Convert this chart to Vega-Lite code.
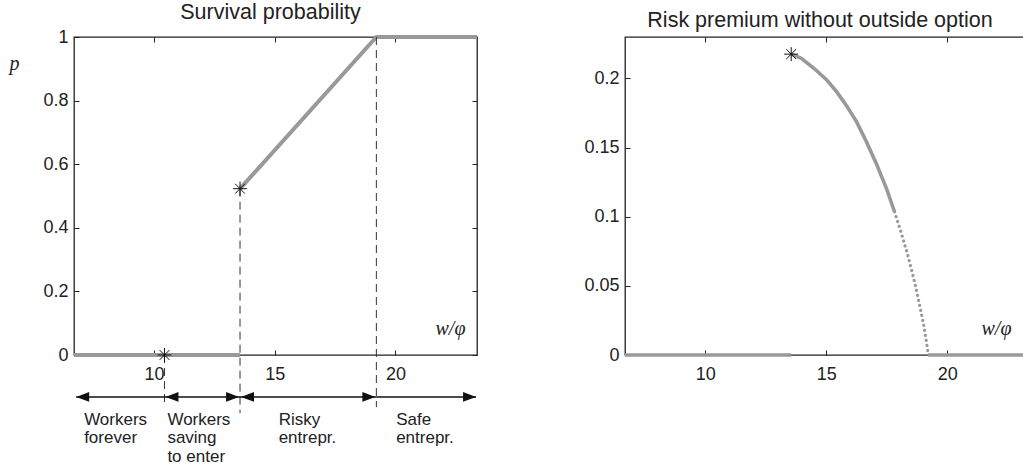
{
  "$schema": "https://vega.github.io/schema/vega-lite/v6.json",
  "padding": {"left": 8, "top": 0, "right": 0, "bottom": 0},
  "spacing": 97,
  "config": {
    "view": {"stroke": "#222", "strokeWidth": 1.3},
    "font": "Liberation Sans",
    "axis": {"grid": false, "domain": false, "tickColor": "#222", "tickSize": -5, "tickWidth": 1, "labelFont": "Liberation Sans", "labelFontSize": 18, "labelColor": "#222", "titleFont": "Liberation Serif", "titleFontStyle": "italic", "titleFontWeight": "normal", "titleFontSize": 20, "titleColor": "#222"},
    "title": {"font": "Liberation Sans", "fontSize": 21.5, "fontWeight": "normal", "color": "#222", "baseline": "bottom", "offset": 5}
  },
  "datasets": {
    "surv": [
      {"x": 6.68, "y": 0, "seg": "a"}, {"x": 13.56, "y": 0, "seg": "a"},
      {"x": 13.56, "y": 0.523, "seg": "b"}, {"x": 19.21, "y": 1, "seg": "b"}, {"x": 23.38, "y": 1, "seg": "b"}
    ],
    "survStars": [{"x": 10.43, "y": 0}, {"x": 13.56, "y": 0.523}],
    "vdash": [
      {"x": 10.43, "y": 0, "y2": -0.164},
      {"x": 13.56, "y": 0.523, "y2": -0.183},
      {"x": 19.21, "y": 1, "y2": -0.164}
    ],
    "arrows": [
      {"x": 6.77, "x2": 10.43, "y": -0.132},
      {"x": 10.43, "x2": 13.56, "y": -0.132},
      {"x": 13.56, "x2": 19.21, "y": -0.132},
      {"x": 19.21, "x2": 23.34, "y": -0.132}
    ],
    "heads": [
      {"x": 6.77, "y": -0.132, "dir": "left"},
      {"x": 10.47, "y": -0.132, "dir": "left"},
      {"x": 13.52, "y": -0.132, "dir": "right"},
      {"x": 13.6, "y": -0.132, "dir": "left"},
      {"x": 19.17, "y": -0.132, "dir": "right"},
      {"x": 23.34, "y": -0.132, "dir": "right"}
    ],
    "labels": [
      {"x": 7.1, "y": -0.22, "t": "Workers\nforever"},
      {"x": 10.55, "y": -0.22, "t": "Workers\nsaving\nto enter"},
      {"x": 15.16, "y": -0.22, "t": "Risky\nentrepr."},
      {"x": 20.03, "y": -0.22, "t": "Safe\nentrepr."}
    ],
    "risk": [
      {"x": 6.68, "y": 0, "seg": "a"}, {"x": 13.55, "y": 0, "seg": "a"},
      {"x": 13.55, "y": 0.2176, "seg": "b"}, {"x": 13.97, "y": 0.2145, "seg": "b"},
      {"x": 14.5, "y": 0.2072, "seg": "b"}, {"x": 15.0, "y": 0.1993, "seg": "b"},
      {"x": 15.42, "y": 0.1906, "seg": "b"}, {"x": 15.83, "y": 0.1804, "seg": "b"},
      {"x": 16.25, "y": 0.1688, "seg": "b"}, {"x": 16.66, "y": 0.1543, "seg": "b"},
      {"x": 17.07, "y": 0.1384, "seg": "b"}, {"x": 17.49, "y": 0.1203, "seg": "b"},
      {"x": 17.82, "y": 0.1036, "seg": "b"},
      {"x": 19.2, "y": 0, "seg": "c"}, {"x": 23.38, "y": 0, "seg": "c"}
    ],
    "riskDots": [
      {"x": 17.82, "y": 0.1036}, {"x": 18.11, "y": 0.0877}, {"x": 18.4, "y": 0.0703},
      {"x": 18.65, "y": 0.0529}, {"x": 18.85, "y": 0.037}, {"x": 19.02, "y": 0.0225},
      {"x": 19.14, "y": 0.0094}, {"x": 19.2, "y": 0.002}
    ],
    "riskStar": [{"x": 13.55, "y": 0.2176}]
  },
  "hconcat": [
    {
      "width": 403,
      "height": 318,
      "title": {"text": "Survival probability", "dx": -5},
      "resolve": {"axis": {"x": "independent", "y": "independent"}},
      "layer": [
        {
          "data": {"name": "surv"},
          "mark": {"type": "line", "color": "#999", "strokeWidth": 4, "clip": false},
          "encoding": {
            "x": {"field": "x", "type": "quantitative", "scale": {"domain": [6.68, 23.38], "nice": false, "zero": false},
                  "axis": {"values": [10, 15, 20], "labelPadding": 15, "title": "w/φ", "titleX": 376, "titleY": -21, "titleAlign": "center", "titleBaseline": "alphabetic"}},
            "y": {"field": "y", "type": "quantitative", "scale": {"domain": [0, 1], "nice": false},
                  "axis": {"values": [0, 0.2, 0.4, 0.6, 0.8, 1], "format": "~g", "labelPadding": 11, "title": "p", "titleAngle": 0, "titleX": -65, "titleY": 32, "titleAlign": "left", "titleBaseline": "alphabetic"}},
            "detail": {"field": "seg"}
          }
        },
        {
          "data": {"name": "vdash"},
          "mark": {"type": "rule", "color": "#333", "strokeWidth": 1, "strokeDash": [8, 5], "clip": false},
          "encoding": {
            "x": {"field": "x", "type": "quantitative", "axis": null},
            "y": {"field": "y", "type": "quantitative", "axis": null},
            "y2": {"field": "y2"}
          }
        },
        {
          "data": {"name": "arrows"},
          "mark": {"type": "rule", "color": "#111", "strokeWidth": 1.3, "clip": false},
          "encoding": {
            "x": {"field": "x", "type": "quantitative", "axis": null},
            "x2": {"field": "x2"},
            "y": {"field": "y", "type": "quantitative", "axis": null}
          }
        },
        {
          "data": {"name": "heads"},
          "mark": {"type": "point", "filled": true, "color": "#111", "opacity": 1, "size": 169, "clip": false},
          "encoding": {
            "x": {"field": "x", "type": "quantitative", "axis": null},
            "y": {"field": "y", "type": "quantitative", "axis": null},
            "shape": {"field": "dir", "type": "nominal", "legend": null,
                      "scale": {"domain": ["left", "right"], "range": ["M0,0L2,-0.75L2,0.75Z", "M0,0L-2,-0.75L-2,0.75Z"]}}
          }
        },
        {
          "data": {"name": "labels"},
          "mark": {"type": "text", "align": "left", "baseline": "alphabetic", "lineBreak": "\n", "lineHeight": 18.5, "fontSize": 17, "font": "Liberation Sans", "color": "#222", "clip": false},
          "encoding": {
            "x": {"field": "x", "type": "quantitative", "axis": null},
            "y": {"field": "y", "type": "quantitative", "axis": null},
            "text": {"field": "t"}
          }
        },
        {
          "data": {"name": "survStars"},
          "mark": {"type": "point", "shape": "M0,-1L0,1M-1,0L1,0M-0.7,-0.7L0.7,0.7M-0.7,0.7L0.7,-0.7", "filled": false, "color": "#111", "strokeWidth": 1, "opacity": 1, "size": 196, "clip": false},
          "encoding": {
            "x": {"field": "x", "type": "quantitative", "axis": {"orient": "top", "values": [10, 15, 20], "labels": false, "title": null}},
            "y": {"field": "y", "type": "quantitative", "axis": {"orient": "right", "values": [0, 0.2, 0.4, 0.6, 0.8, 1], "labels": false, "title": null}}
          }
        }
      ]
    },
    {
      "width": 404,
      "height": 318,
      "title": {"text": "Risk premium without outside option", "dx": -7},
      "resolve": {"axis": {"x": "independent", "y": "independent"}},
      "layer": [
        {
          "data": {"name": "risk"},
          "mark": {"type": "line", "color": "#999", "strokeWidth": 3.6, "clip": false},
          "encoding": {
            "x": {"field": "x", "type": "quantitative", "scale": {"domain": [6.68, 23.38], "nice": false, "zero": false},
                  "axis": {"values": [10, 15, 20], "labelPadding": 15, "title": "w/φ", "titleX": 371, "titleY": -21, "titleAlign": "center", "titleBaseline": "alphabetic"}},
            "y": {"field": "y", "type": "quantitative", "scale": {"domain": [0, 0.23], "nice": false},
                  "axis": {"values": [0, 0.05, 0.1, 0.15, 0.2], "format": "~g", "labelPadding": 11, "title": null}},
            "detail": {"field": "seg"}
          }
        },
        {
          "data": {"name": "riskDots"},
          "mark": {"type": "line", "color": "#999", "strokeWidth": 3.2, "strokeCap": "round", "strokeDash": [0.1, 5], "clip": false},
          "encoding": {
            "x": {"field": "x", "type": "quantitative", "axis": null},
            "y": {"field": "y", "type": "quantitative", "axis": null}
          }
        },
        {
          "data": {"name": "riskStar"},
          "mark": {"type": "point", "shape": "M0,-1L0,1M-1,0L1,0M-0.7,-0.7L0.7,0.7M-0.7,0.7L0.7,-0.7", "filled": false, "color": "#111", "strokeWidth": 1, "opacity": 1, "size": 196, "clip": false},
          "encoding": {
            "x": {"field": "x", "type": "quantitative", "axis": {"orient": "top", "values": [10, 15, 20], "labels": false, "title": null}},
            "y": {"field": "y", "type": "quantitative", "axis": {"orient": "right", "values": [0, 0.05, 0.1, 0.15, 0.2], "labels": false, "title": null}}
          }
        }
      ]
    }
  ]
}
